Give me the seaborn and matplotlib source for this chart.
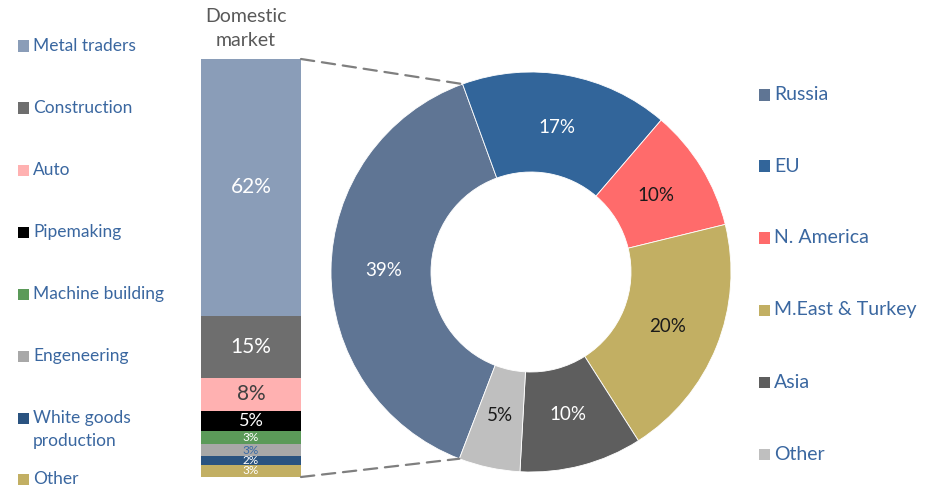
import matplotlib
matplotlib.use("Agg")
import matplotlib.pyplot as plt
import seaborn as sns
import pandas as pd
import numpy as np
from matplotlib.patches import Rectangle, ConnectionPatch

# Domestic market breakdown by consuming industry (%)
segments = ["Metal traders", "Construction", "Auto", "Pipemaking",
            "Machine building", "Engeneering", "White goods\nproduction", "Other"]
segment_share = [62, 15, 8, 5, 3, 3, 2, 3]
segment_colors = ["#8A9DB8", "#6E6E6E", "#FFB1B1", "#000000",
                  "#5B9A59", "#A8A8A8", "#2A5380", "#C2AF63"]
segment_text_colors = ["white", "white", "#404040", "white",
                       "white", "#3A6AA5", "white", "white"]

# Sales by region (%)
regions = ["Russia", "EU", "N. America", "M.East & Turkey", "Asia", "Other"]
region_share = [39, 17, 10, 20, 10, 5]
region_colors = ["#5F7594", "#32659A", "#FF6B6B", "#C2AF63", "#5E5E5E", "#BFBFBF"]
region_text_colors = ["white", "white", "#1A1A1A", "#1A1A1A", "white", "#1A1A1A"]

sns.set_theme(style="white")
plt.rcParams["font.family"] = ["Lato", "DejaVu Sans"]

W, H = 934, 488
fig = plt.figure(figsize=(W / 100, H / 100), dpi=100)
fig.patch.set_facecolor("white")


def fx(px):
    return px / W


def fy(py):
    return 1 - py / H


legend_blue = "#3A67A0"

# ---- stacked bar: domestic market ----
total = sum(segment_share)
# cumulative height measured from the bottom; top segment listed first
cum_from_bottom = list(np.cumsum(segment_share[::-1])[::-1])
df = pd.DataFrame({"market": ["Domestic"] * len(segments),
                   "segment": segments,
                   "top": cum_from_bottom})

ax_bar = fig.add_axes([fx(201), fy(477), fx(100), 418 / H])
sns.barplot(data=df, x="market", y="top", hue="segment", hue_order=segments,
            palette=dict(zip(segments, segment_colors)), dodge=False,
            width=1.0, saturation=1, legend=False, ax=ax_bar, linewidth=0)
ax_bar.set_xlim(-0.5, 0.5)
ax_bar.set_ylim(0, total)
ax_bar.axis("off")

for name, share, top, tc in zip(segments, segment_share, cum_from_bottom, segment_text_colors):
    mid = top - share / 2
    fs = 15 if share >= 8 else (13 if share >= 5 else 8.5)
    ax_bar.text(0, mid, f"{share}%", ha="center", va="center",
                color=tc, fontsize=fs)

fig.text(fx(246), fy(17), "Domestic", ha="center", va="center",
         fontsize=14, color="#595959")
fig.text(fx(246), fy(41), "market", ha="center", va="center",
         fontsize=14, color="#595959")

# ---- donut: sales by region ----
R = 200
total_r = sum(region_share)
start = 110 + region_share[0] / total_r * 360
ax_pie = fig.add_axes([fx(531 - R), fy(272 + R), fx(2 * R), 2 * R / H])
wedges, _ = ax_pie.pie(region_share, colors=region_colors, startangle=start,
                       counterclock=False, radius=1,
                       wedgeprops=dict(width=0.5, linewidth=0.6, edgecolor="white"))
ax_pie.set_xlim(-1, 1)
ax_pie.set_ylim(-1, 1)
ax_pie.set_aspect("equal")
ax_pie.axis("off")

ang = start
for share, tc in zip(region_share, region_text_colors):
    span = share / total_r * 360
    mid = np.deg2rad(ang - span / 2)
    ax_pie.text(0.735 * np.cos(mid), 0.735 * np.sin(mid), f"{share}%",
                ha="center", va="center", color=tc, fontsize=13.5)
    ang -= span

# dashed connectors from the bar to the Russia wedge
a_top = np.deg2rad(110)
a_bot = np.deg2rad(start)
for yb, a in [(total, a_top), (0, a_bot)]:
    con = ConnectionPatch(xyA=(0.5, yb), coordsA=ax_bar.transData,
                          xyB=(np.cos(a), np.sin(a)), coordsB=ax_pie.transData,
                          color="#7F7F7F", lw=1.6, linestyle=(0, (6, 3.5)))
    fig.add_artist(con)


# ---- legends ----
def legend_item(x_sq, y_c, color, label, fs, y_text=None):
    s = 11
    fig.add_artist(Rectangle((fx(x_sq), fy(y_c + s / 2)), fx(s), s / H,
                             facecolor=color, edgecolor="none",
                             transform=fig.transFigure))
    fig.text(fx(x_sq + 15), fy(y_c if y_text is None else y_text), label,
             ha="left", va="center", fontsize=fs, color=legend_blue,
             linespacing=1.55)


left_y = [46, 108, 170, 232, 294, 356, 418, 479]
for name, col, y in zip(segments, segment_colors, left_y):
    if "\n" in name:
        legend_item(18, y, col, name, 12.5, y_text=y + 11.5)
    else:
        legend_item(18, y, col, name, 12.5)

right_y = [95, 166, 238, 310, 382, 454]
for name, col, y in zip(regions, region_colors, right_y):
    legend_item(759, y, col, name, 14)

fig.savefig("out.png", dpi=100, facecolor="white")
